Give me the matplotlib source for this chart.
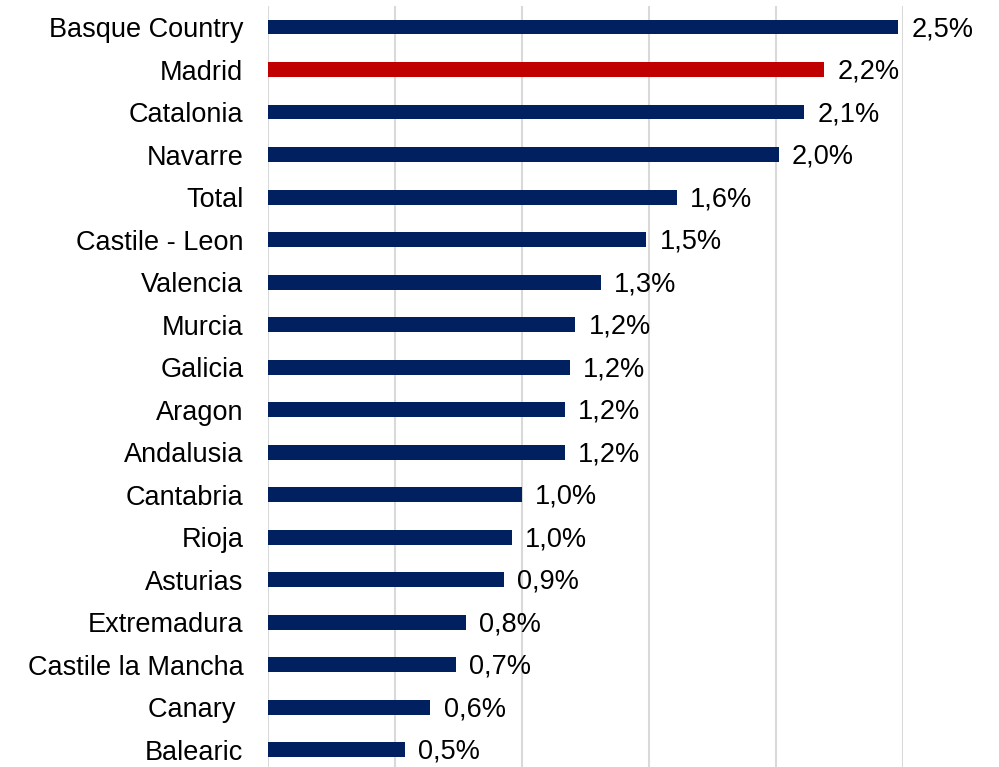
import matplotlib.pyplot as plt

plt.rcParams['font.family'] = ['Liberation Sans', 'DejaVu Sans']

# Data (percent)
regions = ["Basque Country", "Madrid", "Catalonia", "Navarre", "Total",
           "Castile - Leon", "Valencia", "Murcia", "Galicia", "Aragon",
           "Andalusia", "Cantabria", "Rioja", "Asturias", "Extremadura",
           "Castile la Mancha", "Canary ", "Balearic"]
values = [2.48, 2.19, 2.11, 2.01, 1.61, 1.49, 1.31, 1.21, 1.19, 1.17,
          1.17, 1.00, 0.96, 0.93, 0.78, 0.74, 0.64, 0.54]
labels = ["2,5%", "2,2%", "2,1%", "2,0%", "1,6%", "1,5%", "1,3%", "1,2%",
          "1,2%", "1,2%", "1,2%", "1,0%", "1,0%", "0,9%", "0,8%", "0,7%",
          "0,6%", "0,5%"]

navy = "#002060"
red = "#C00000"
colors = [red if r == "Madrid" else navy for r in regions]

fig = plt.figure(figsize=(9.99, 7.67), dpi=100)
ax = fig.add_axes([0.268, -0.0052, 0.636, 0.9977])

y = list(range(len(regions)))
bars = ax.barh(y, values, height=0.35, color=colors, zorder=3)

for bar, lab in zip(bars, labels):
    ax.annotate(lab, (bar.get_width(), bar.get_y() + bar.get_height() / 2),
                xytext=(9.5, -1.5), textcoords="offset points",
                va="center", ha="left", fontsize=19.5, color="black")

ax.set_xlim(0, 2.5)
ax.set_ylim(len(regions) - 0.5, -0.5)
ax.set_xticks([0, 0.5, 1.0, 1.5, 2.0, 2.5])
ax.xaxis.grid(True, color="#d9d9d9", linewidth=1.5, zorder=0)
ax.tick_params(axis="x", bottom=False, labelbottom=False)
ax.set_yticks(y)
ax.set_yticklabels(regions, fontsize=19.5, va="center_baseline")
ax.tick_params(axis="y", left=False, pad=14)
for s in ax.spines.values():
    s.set_visible(False)

fig.savefig("out.png", dpi=100)
